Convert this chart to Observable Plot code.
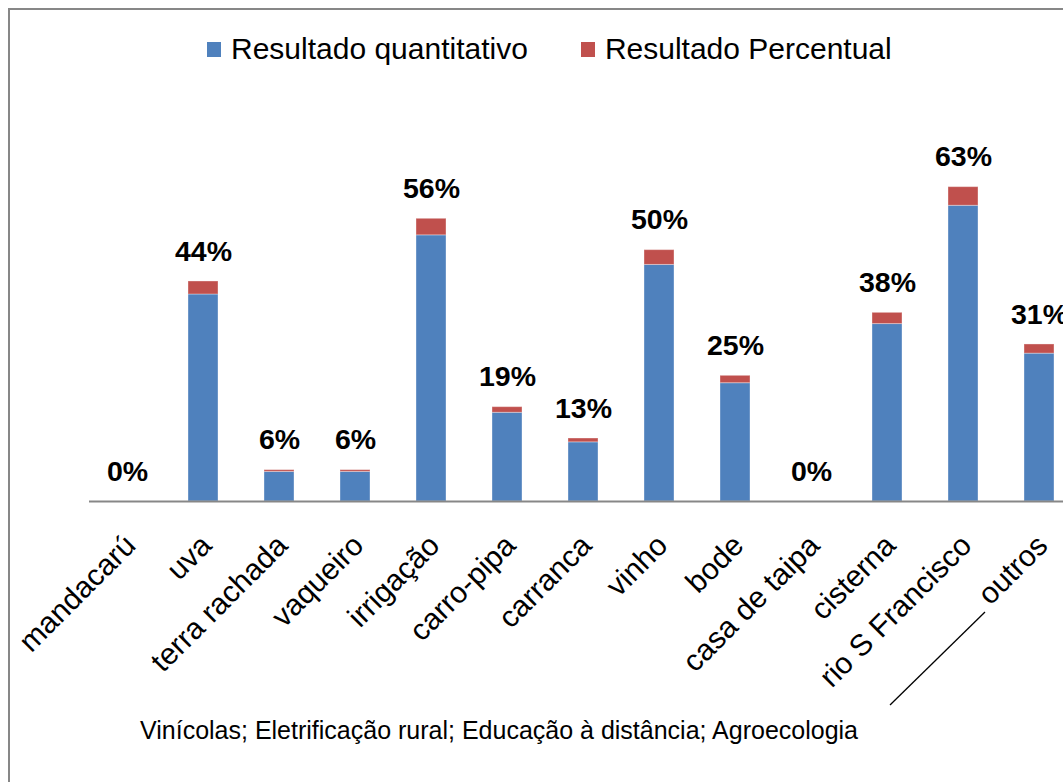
<!DOCTYPE html>
<html><head><meta charset="utf-8">
<script src="https://cdn.jsdelivr.net/npm/d3@7"></script>
<script src="https://cdn.jsdelivr.net/npm/@observablehq/plot@0.6"></script>
<style>
html,body{margin:0;padding:0;background:#fff;overflow:hidden}
#frame{position:relative;width:1063px;height:782px;overflow:hidden;font-family:"Liberation Sans",Arial,sans-serif;color:#000}
#border{position:absolute;left:8px;top:8px;width:1100px;height:800px;border-left:2px solid #878787;border-top:2px solid #878787}
#chart{position:absolute;left:0;top:0;width:1080px}
#chart svg{max-width:none !important}
#legend{position:absolute;top:32px;left:207px;display:flex;align-items:center;font-size:30px;gap:53px;white-space:nowrap}
#legend .item{display:flex;align-items:center}
#legend .sw{width:14px;height:15px;margin-right:10px}
#note{position:absolute;left:140px;top:716px;font-size:25px;white-space:nowrap}
#leader{position:absolute;left:0;top:0}
</style></head>
<body>
<div id="frame">
  <div id="border"></div>
  <div id="chart"></div>
  <div id="legend"></div>
  <div id="note"></div>
  <svg id="leader" width="1063" height="782"><line x1="890" y1="705" x2="985" y2="612" stroke="#000" stroke-width="1.3"/></svg>
</div>
<script>
const categories = ["mandacarú","uva","terra rachada","vaqueiro","irrigação","carro-pipa","carranca","vinho","bode","casa de taipa","cisterna","rio S Francisco","outros"];
const quantitativo = [0,7,1,1,9,3,2,8,4,0,6,10,5];
const percentual = [0,44,6,6,56,19,13,50,25,0,38,63,31];
const seriesNames = ["Resultado quantitativo","Resultado Percentual"];
const seriesColors = ["#4F81BD","#C0504D"];
const footnote = "Vinícolas; Eletrificação rural; Educação à distância; Agroecologia";

const rows = [];
categories.forEach((c,i)=>{
  rows.push({cat:c, series:seriesNames[0], value:quantitativo[i]});
  rows.push({cat:c, series:seriesNames[1], value:percentual[i]/100});
});
const labels = categories.map((c,i)=>({cat:c, top:quantitativo[i]+percentual[i]/100, text:percentual[i]+"%"}));

const plot = Plot.plot({
  width:1080, height:782,
  marginLeft:89, marginRight:3, marginTop:87, marginBottom:281,
  style:{fontFamily:'"Liberation Sans", Arial, sans-serif', background:"transparent", color:"#000", maxWidth:"none"},
  x:{domain:categories, paddingInner:0.605, paddingOuter:0.3025, label:null},
  y:{domain:[0,14], axis:null},
  color:{domain:seriesNames, range:seriesColors},
  marks:[
    Plot.barY(rows,{x:"cat", y:"value", fill:"series", order:seriesNames, stroke:"#fff", strokeOpacity:0.35, strokeWidth:1}),
    Plot.ruleY([0],{stroke:"#878787", strokeWidth:2}),
    Plot.text(labels,{x:"cat", y:"top", text:"text", dy:-30, fontSize:28.5, fontWeight:"bold", fill:"#000"}),
    Plot.axisX({tickSize:0, tickPadding:39, tickRotate:-45, fontSize:30, dx:3, fill:"#000"})
  ]
});
document.getElementById("chart").appendChild(plot);

const lg = d3.select("#legend");
seriesNames.forEach((s,i)=>{
  const it = lg.append("div").attr("class","item");
  it.append("div").attr("class","sw").style("background",seriesColors[i]);
  it.append("span").text(s);
});
document.getElementById("note").textContent = footnote;
</script>
</body></html>
